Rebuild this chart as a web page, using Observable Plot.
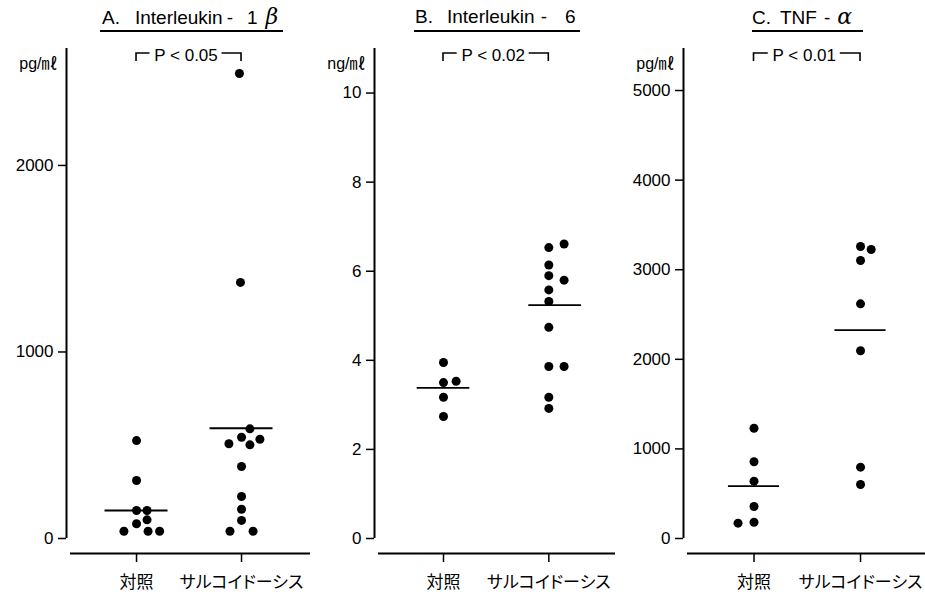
<!DOCTYPE html>
<html>
<head>
<meta charset="utf-8">
<script src="https://cdn.jsdelivr.net/npm/d3@7"></script>
<script src="https://cdn.jsdelivr.net/npm/@observablehq/plot@0.6"></script>
<style>
  body { margin: 0; background: #fff; }
  #fig { position: relative; width: 925px; height: 596px; overflow: hidden; background: #fff;
         font-family: "Liberation Sans", Arial, "Noto Sans CJK JP", sans-serif; color: #000; }
  .panel { position: absolute; top: 0; }
  .title { position: absolute; top: 7px; font-size: 19px; line-height: 19px; white-space: pre; }
  .title i { font-size: 22px; font-family: "DejaVu Serif", "Liberation Serif", serif; }
  .underline { position: absolute; top: 30px; height: 2px; background: #000; }
</style>
</head>
<body>
<div id="fig"></div>
<script>
// Group labels on the x axis
const groups = ["対照", "サルコイドーシス"];

// A. Interleukin-1β (pg/ml)
const il1Control     = [525, 311, 150, 150, 100, 79, 39, 39, 39];
const il1ControlLane = [0, 0, 0, 1, 1, 0, -1.2, 1.1, 2.2];
const il1Sarc        = [2493, 1373, 588, 543, 532, 508, 502, 386, 225, 157, 97, 39, 39];
const il1SarcLane    = [-0.2, -0.1, 0.8, 0, 1.75, -1.2, 0.8, 0, 0, 0, 0, -1.1, 1.1];
const il1Means       = [150, 591];
const il1Ticks       = [0, 1000, 2000];

// B. Interleukin-6 (ng/ml)
const il6Control     = [3.95, 3.50, 3.53, 3.17, 2.74];
const il6ControlLane = [0, 0, 1.2, 0, 0];
const il6Sarc        = [6.53, 6.61, 6.14, 5.90, 5.80, 5.58, 5.32, 4.74, 3.86, 3.86, 3.17, 2.92];
const il6SarcLane    = [0, 1.45, 0, 0, 1.45, 0, 0, 0, 0, 1.45, 0, 0];
const il6Means       = [3.38, 5.24];
const il6Ticks       = [0, 2, 4, 6, 8, 10];

// C. TNF-α (pg/ml)
const tnfControl     = [1231, 856, 640, 357, 171, 182];
const tnfControlLane = [0, 0, 0, 0, -1.5, 0];
const tnfSarc        = [3259, 3225, 3103, 2619, 2095, 796, 603];
const tnfSarcLane    = [0, 1, 0, 0, 0, 0, 0];
const tnfMeans       = [584, 2325];
const tnfTicks       = [0, 1000, 2000, 3000, 4000, 5000];

const pLabels = ["P < 0.05", "P < 0.02", "P < 0.01"];
const units = ["pg/㎖", "ng/㎖", "pg/㎖"];

const LANE = 0.1;     // horizontal spacing of side-by-side dots, in x units
const P_SHIFT = -3;   // the P label sits slightly left of the bracket's middle
const P_GAP = 36;     // half of the opening left in the bracket for the P label, px
const fig = document.getElementById("fig");

function panel(cfg) {
  const dots = [
    ...cfg.control.map((v, i) => ({g: 0, v, lane: cfg.controlLane[i]})),
    ...cfg.sarc.map((v, i) => ({g: 1, v, lane: cfg.sarcLane[i]}))
  ];
  const means = cfg.means.map((v, i) => ({g: i, v, lane: cfg.meanLane[i]}));
  // significance bracket joining the two groups, open in the middle for its label
  const bracket = (index, scales, values, dims) => {
    const x0 = scales.x(0), x1 = scales.x(1), y0 = dims.marginTop + 5;
    const mid = (x0 + x1) / 2 + P_SHIFT;
    return d3.create("svg:path")
      .attr("d", `M${x0},${y0 + 8}V${y0}H${mid - P_GAP}M${mid + P_GAP},${y0}H${x1}V${y0 + 8}`)
      .attr("fill", "none").attr("stroke", "#000").attr("stroke-width", 1.6)
      .node();
  };
  const svg = Plot.plot({
    width: cfg.width,
    height: 596,
    marginLeft: cfg.axisX - cfg.left,
    marginRight: 0,
    marginTop: 48,
    marginBottom: 58,
    style: 'font-family: "Liberation Sans", Arial, "Noto Sans CJK JP", sans-serif; font-feature-settings: "palt"; color: #000; background: transparent; overflow: visible;',
    x: {type: "linear", domain: [-cfg.pL, 1 + cfg.pR]},
    y: {domain: [0, cfg.yMax]},
    marks: [
      Plot.ruleX([-cfg.pL], {strokeWidth: 2}),
      Plot.ruleY([0], {dy: 15, strokeWidth: 2, insetLeft: 4}),
      Plot.axisY({ticks: cfg.ticks, tickFormat: d => String(d), tickSize: 8, tickPadding: 5,
                  fontSize: 17, label: null, strokeWidth: 1.5}),
      Plot.axisX({ticks: [0, 1], tickFormat: i => groups[i], dy: 15, tickSize: 9, tickPadding: 13,
                  fontSize: 17, label: null, strokeWidth: 1.5}),
      Plot.ruleY(means, {
        x1: d => d.g + d.lane * LANE - cfg.meanHalf,
        x2: d => d.g + d.lane * LANE + cfg.meanHalf,
        y: "v", strokeWidth: 1.8
      }),
      Plot.dot(dots, {x: d => d.g + d.lane * LANE, y: "v", r: 4.5, fill: "#000", stroke: "none"}),
      bracket,
      Plot.text([cfg.p], {x: 0.5, text: d => d, frameAnchor: "top", lineAnchor: "middle", dy: 7, dx: P_SHIFT,
                          fontSize: 17, fill: "#000"}),
      Plot.text([cfg.unit], {text: d => d, frameAnchor: "top-left", lineAnchor: "middle", dx: -9, dy: 15,
                             textAnchor: "end", fontSize: 16, fill: "#000"})
    ]
  });
  svg.classList.add("panel");
  svg.style.left = cfg.left + "px";
  fig.appendChild(svg);
}

panel({left: 0, width: 310, axisX: 66, pL: 0.667, pR: 0.657, yMax: 2627, ticks: il1Ticks,
       control: il1Control, controlLane: il1ControlLane, sarc: il1Sarc, sarcLane: il1SarcLane,
       means: il1Means, meanLane: [0, 0], meanHalf: 0.3, p: pLabels[0], unit: units[0]});
panel({left: 310, width: 305, axisX: 374, pL: 0.655, pR: 0.633, yMax: 11, ticks: il6Ticks,
       control: il6Control, controlLane: il6ControlLane, sarc: il6Sarc, sarcLane: il6SarcLane,
       means: il6Means, meanLane: [0, 0.6], meanHalf: 0.25, p: pLabels[1], unit: units[1]});
panel({left: 615, width: 310, axisX: 683, pL: 0.662, pR: 0.61, yMax: 5469, ticks: tnfTicks,
       control: tnfControl, controlLane: tnfControlLane, sarc: tnfSarc, sarcLane: tnfSarcLane,
       means: tnfMeans, meanLane: [0, 0], meanHalf: 0.24, p: pLabels[2], unit: units[2]});

// Panel titles with underlines; each title is a list of [text, gap before it]
const titles = [
  {parts: [["A.", 0], ["Interleukin", 15], ["-", 4], ["1", 14], ["<i>β</i>", 8]], left: 102, ul: [100, 283]},
  {parts: [["B.", 0], ["Interleukin", 14], ["-", 6], ["6", 18]], left: 415, ul: [414, 580]},
  {parts: [["C.", 0], ["TNF", 9], ["-", 7], ["<i>α</i>", 7]], left: 752, ul: [752, 863]}
];
for (const t of titles) {
  const d = document.createElement("div");
  d.className = "title";
  d.style.left = t.left + "px";
  d.innerHTML = t.parts.map(([s, gap]) => `<span style="margin-left:${gap}px">${s}</span>`).join("");
  fig.appendChild(d);
  const u = document.createElement("div");
  u.className = "underline";
  u.style.left = t.ul[0] + "px";
  u.style.width = (t.ul[1] - t.ul[0]) + "px";
  fig.appendChild(u);
}
</script>
</body>
</html>
